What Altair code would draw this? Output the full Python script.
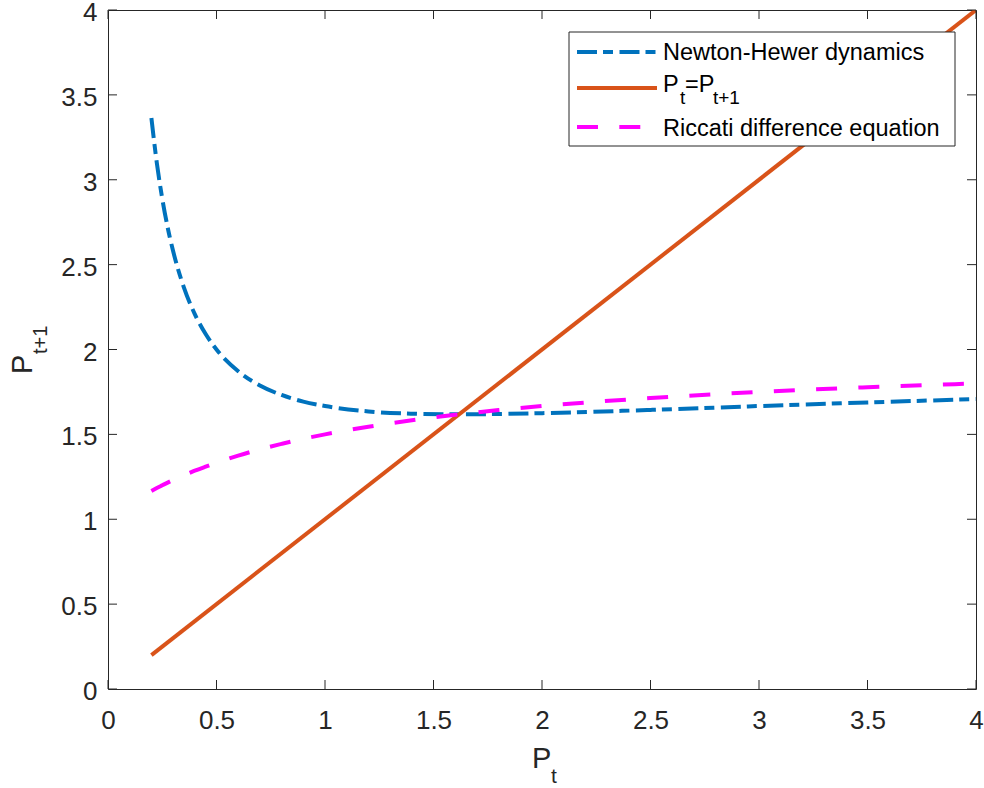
import altair as alt
import pandas as pd

# ---- data ----
P_NH = [0.2, 0.225, 0.25, 0.275, 0.3, 0.35, 0.4, 0.45, 0.5, 0.6, 0.7, 0.8, 0.9,
        1.0, 1.2, 1.4, 1.6, 1.8, 2.0, 2.5, 3.0, 3.5, 4.0]
NEWTON_HEWER = [3.364, 3.099, 2.889, 2.719, 2.580, 2.365, 2.208, 2.091, 2.000, 1.872,
                1.788, 1.732, 1.693, 1.667, 1.635, 1.622, 1.618, 1.620, 1.625, 1.644,
                1.667, 1.688, 1.708]
P_RIC = [0.2, 0.225, 0.25, 0.275, 0.3, 0.35, 0.4, 0.45, 0.5, 0.6, 0.7, 0.8, 0.9,
         1.0, 1.2, 1.4, 1.6, 1.8, 2.0, 2.5, 3.0, 3.5, 4.0]
RICCATI = [1.167, 1.184, 1.200, 1.216, 1.231, 1.259, 1.286, 1.310, 1.333, 1.375,
           1.412, 1.444, 1.474, 1.500, 1.545, 1.583, 1.615, 1.643, 1.667, 1.714,
           1.750, 1.778, 1.800]
P_ID = [0.2, 4.0]
IDENTITY = [0.2, 4.0]
TICKS = [0, 0.5, 1, 1.5, 2, 2.5, 3, 3.5, 4]
SERIES = ["Newton-Hewer dynamics", "P_t=P_{t+1}", "Riccati difference equation"]
COLORS = ["#0072BD", "#D95319", "#FF00FF"]

W, H = 868, 679
FONT = "Liberation Sans"
AX = "#262626"
TL = 9

xs = alt.Scale(domain=[0, 4], nice=False)
ys = alt.Scale(domain=[0, 4], nice=False)

X_AXIS = alt.Axis(values=TICKS, format=".1~f", ticks=False, tickSize=0, domain=False,
                  grid=False, labelFontSize=26, labelPadding=18, labelColor=AX,
                  labelFont=FONT, title=None, labelFlush=False, labelOverlap=False)
Y_AXIS = alt.Axis(values=TICKS, format=".1~f", ticks=False, tickSize=0, domain=False,
                  grid=False, labelFontSize=26, labelPadding=11, labelColor=AX,
                  labelFont=FONT, title=None, labelFlush=False, labelOverlap=False,
                  labelOffset=2.5)

DASH_NH = [20, 6, 10, 6.5]
DASH_RIC = [21, 21.3]


def series(xv, yv, color, dash=None):
    df = pd.DataFrame({"p": xv, "q": yv})
    kw = dict(color=color, strokeWidth=4, interpolate="monotone", clip=True)
    if dash:
        kw["strokeDash"] = dash
    return alt.Chart(df).mark_line(**kw).encode(
        x=alt.X("p:Q", scale=xs, axis=X_AXIS),
        y=alt.Y("q:Q", scale=ys, axis=Y_AXIS),
    )


ticks_df = pd.DataFrame({"t": TICKS})
xt_bottom = alt.Chart(ticks_df).mark_rule(color=AX, strokeWidth=1).encode(
    x=alt.X("t:Q", scale=xs, axis=X_AXIS), y=alt.value(H), y2=alt.value(H - TL))
xt_top = alt.Chart(ticks_df).mark_rule(color=AX, strokeWidth=1).encode(
    x=alt.X("t:Q", scale=xs, axis=X_AXIS), y=alt.value(0), y2=alt.value(TL))
yt_left = alt.Chart(ticks_df).mark_rule(color=AX, strokeWidth=1).encode(
    y=alt.Y("t:Q", scale=ys, axis=Y_AXIS), x=alt.value(0), x2=alt.value(TL))
yt_right = alt.Chart(ticks_df).mark_rule(color=AX, strokeWidth=1).encode(
    y=alt.Y("t:Q", scale=ys, axis=Y_AXIS), x=alt.value(W - TL), x2=alt.value(W))

one = pd.DataFrame({"a": [0]})


def txt(s, x, y, size, color=AX, angle=0):
    kw = dict(text=s, align="left", baseline="alphabetic", fontSize=size, font=FONT,
              color=color)
    if angle:
        kw["angle"] = angle
    return alt.Chart(one).mark_text(**kw).encode(x=alt.value(x), y=alt.value(y))


def sample(y, color, dash=None):
    kw = dict(color=color, strokeWidth=4)
    if dash:
        kw["strokeDash"] = dash
    return alt.Chart(one).mark_rule(**kw).encode(
        x=alt.value(469), x2=alt.value(549), y=alt.value(y))


legend_box = alt.Chart(one).mark_rect(fill="white", stroke=AX, strokeWidth=1).encode(
    x=alt.value(461), x2=alt.value(847), y=alt.value(22), y2=alt.value(136))

LS = 23.5
SS = 19
legend = [
    legend_box,
    sample(42, COLORS[0], DASH_NH),
    sample(78, COLORS[1]),
    sample(117, COLORS[2], DASH_RIC),
    txt(SERIES[0], 555, 49.5, LS, "black"),
    txt("P", 555, 82, LS, "black"),
    txt("t", 572, 93.5, SS, "black"),
    txt("=P", 577, 82, LS, "black"),
    txt("t+1", 605, 93.5, SS, "black"),
    txt(SERIES[2], 555, 126, LS, "black"),
]

titles = [
    txt("P", 424, 758, 29),
    txt("t", 443, 773, 21),
    txt("P", -76, 364, 29, angle=270),
    txt("t+1", -61, 344, 20, angle=270),
]

chart = alt.layer(
    series(P_NH, NEWTON_HEWER, COLORS[0], DASH_NH),
    series(P_ID, IDENTITY, COLORS[1]),
    series(P_RIC, RICCATI, COLORS[2], DASH_RIC),
    xt_bottom, xt_top, yt_left, yt_right,
    *legend,
    *titles,
).properties(
    width=W, height=H,
    autosize=alt.AutoSizeParams(type="none"),
    padding={"left": 108, "top": 10, "right": 8, "bottom": 99},
    background="white",
).configure_view(stroke=AX, strokeWidth=1)

chart.save("out.html", embed_options={"renderer": "svg", "actions": False})
